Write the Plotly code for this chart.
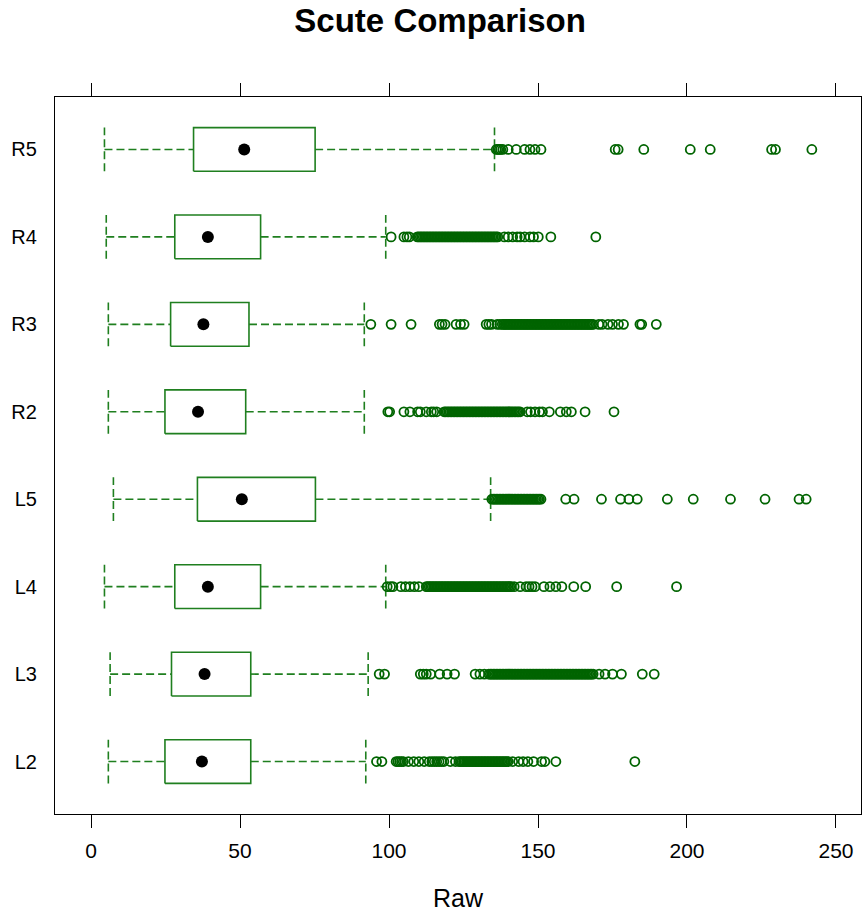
import plotly.graph_objects as go

# Scute measurements per position: five-number summaries plus outlying values
groups = ["L2", "L3", "L4", "L5", "R2", "R3", "R4", "R5"]
whisker_lo = [5.8, 6.4, 4.5, 7.5, 5.8, 5.8, 5.1, 4.5]
q1 = [24.8, 27.0, 28.1, 35.7, 24.8, 26.7, 28.1, 34.4]
median = [37.2, 38.1, 39.2, 50.6, 35.9, 37.7, 39.2, 51.4]
q3 = [53.6, 53.6, 56.9, 75.3, 51.9, 53.0, 56.9, 75.2]
whisker_hi = [92.2, 93.0, 98.9, 134.1, 91.7, 91.7, 98.9, 135.4]

out_L2 = [95.8, 97.6, 102.4, 103.0, 103.6, 104.2, 104.8, 106.5, 108.3, 110.0, 111.8,
          113.5, 114.4, 115.2, 116.0, 116.8, 117.6, 118.4, 120.6, 122.3,
          123.5, 124, 124.5, 125, 125.5, 126, 126.5, 127, 127.5, 128, 128.5, 129,
          129.5, 130, 130.5, 131, 131.5, 132, 132.5, 133, 133.5, 134, 134.5, 135,
          135.5, 136, 136.5, 137, 137.5, 138, 138.5, 139, 139.5, 140,
          141.5, 143.5, 145.0, 146.6, 148.5, 151.2, 152.3, 156.0, 182.5]
out_L3 = [96.7, 98.5, 110.5, 111.5, 112.5, 114.0, 117.0, 119.5, 122.0,
          128.9, 130.5, 132.0, 133.5, 134, 134.5, 135, 135.5, 136, 136.5, 137,
          137.5, 138, 138.5, 139, 139.5, 140, 140.5, 141, 141.5, 142, 142.5, 143,
          143.5, 144, 144.5, 145, 145.5, 146, 146.5, 147, 147.5, 148, 148.5, 149,
          149.5, 150, 150.5, 151, 151.5, 152, 152.5, 153, 153.5, 154, 154.5, 155,
          155.5, 156, 156.5, 157, 157.5, 158, 158.5, 159, 159.5, 160, 160.5, 161,
          161.5, 162, 162.5, 163, 163.5, 164, 164.5, 165, 165.5, 166, 166.5, 167,
          167.5, 168, 168.5, 170.5, 172.5, 175.0, 178.0, 185.0, 189.0]
out_L4 = [99.4, 100.5, 101.3, 104.0, 105.5, 107.0, 108.5, 110.0,
          112.5, 113, 113.5, 114, 114.5, 115, 115.5, 116, 116.5, 117, 117.5, 118,
          118.5, 119, 119.5, 120, 120.5, 121, 121.5, 122, 122.5, 123, 123.5, 124,
          124.5, 125, 125.5, 126, 126.5, 127, 127.5, 128, 128.5, 129, 129.5, 130,
          130.5, 131, 131.5, 132, 132.5, 133, 133.5, 134, 134.5, 135, 135.5, 136,
          136.5, 137, 137.5, 138, 138.5, 139, 139.5, 140, 140.5, 141,
          142.0, 144.0, 146.0, 147.0, 148.0, 149.0, 152.0, 154.0, 156.0, 158.0,
          162.0, 166.0, 176.4, 196.5]
out_L5 = [134.5, 135, 135.5, 136, 136.5, 137, 137.5, 138, 138.5, 139, 139.5, 140,
          140.5, 141, 141.5, 142, 142.5, 143, 143.5, 144, 144.5, 145, 145.5, 146,
          146.5, 147, 147.5, 148, 148.5, 149, 149.5, 150, 150.5, 151,
          159.3, 162.1, 171.3, 177.7, 180.5, 183.3, 193.4, 202.1, 214.6, 226.2,
          237.6, 240.0]
out_R2 = [99.6, 100.2, 105.0, 107.0, 109.6, 110.5, 112.5, 114.2, 115.0, 116.0,
          118.5, 119, 119.5, 120, 120.5, 121, 121.5, 122, 122.5, 123, 123.5, 124,
          124.5, 125, 125.5, 126, 126.5, 127, 127.5, 128, 128.5, 129, 129.5, 130,
          130.5, 131, 131.5, 132, 132.5, 133, 133.5, 134, 134.5, 135, 135.5, 136,
          136.5, 137, 137.5, 138, 138.5, 139, 139.5, 140, 140.5, 141, 141.5, 142,
          142.5, 143, 143.5, 144,
          146.4, 147.5, 149.0, 150.5, 151.5, 153.8, 157.5, 159.5, 161.2, 165.8, 175.5]
out_R3 = [93.9, 100.7, 107.4, 116.9, 117.8, 118.8, 122.5, 124.0, 125.2,
          132.6, 133.5, 134.4, 136.3, 137.2,
          138, 138.5, 139, 139.5, 140, 140.5, 141, 141.5, 142, 142.5, 143, 143.5,
          144, 144.5, 145, 145.5, 146, 146.5, 147, 147.5, 148, 148.5, 149, 149.5,
          150, 150.5, 151, 151.5, 152, 152.5, 153, 153.5, 154, 154.5, 155, 155.5,
          156, 156.5, 157, 157.5, 158, 158.5, 159, 159.5, 160, 160.5, 161, 161.5,
          162, 162.5, 163, 163.5, 164, 164.5, 165, 165.5, 166, 166.5, 167, 167.5,
          168, 168.5,
          170.4, 171.5, 173.5, 175.0, 177.0, 178.7, 184.2, 184.8, 189.7]
out_R4 = [100.7, 105.0, 106.0, 106.8,
          109.5, 110, 110.5, 111, 111.5, 112, 112.5, 113, 113.5, 114, 114.5, 115,
          115.5, 116, 116.5, 117, 117.5, 118, 118.5, 119, 119.5, 120, 120.5, 121,
          121.5, 122, 122.5, 123, 123.5, 124, 124.5, 125, 125.5, 126, 126.5, 127,
          127.5, 128, 128.5, 129, 129.5, 130, 130.5, 131, 131.5, 132, 132.5, 133,
          133.5, 134, 134.5, 135, 135.5, 136, 136.5,
          138.7, 140.0, 141.5, 143.0, 144.0, 145.5, 147.3, 148.5, 150.1, 154.3, 169.4]
out_R5 = [136.0, 136.5, 137.0, 137.5, 138.2, 140.0, 142.7, 145.5, 147.3, 149.0,
          151.0, 175.9, 176.9, 185.5, 201.1, 207.8, 228.4, 229.7, 241.9]

outliers = [out_L2, out_L3, out_L4, out_L5, out_R2, out_R3, out_R4, out_R5]

LINE_GREEN = "#1F7F1F"
POINT_GREEN = "#006400"
HALF = 0.25  # half the box thickness, in category units
DASH = "8px,4px"

fig = go.Figure()

for i, name in enumerate(groups):
    pos = i + 1
    # box from the first to the third quartile
    fig.add_trace(go.Scatter(
        x=[q1[i], q3[i], q3[i], q1[i], q1[i]],
        y=[pos - HALF, pos - HALF, pos + HALF, pos + HALF, pos - HALF],
        mode="lines", line=dict(color=LINE_GREEN, width=1.6),
        hoverinfo="skip", showlegend=False))
    # dashed whiskers
    for a, b in ((whisker_lo[i], q1[i]), (q3[i], whisker_hi[i])):
        fig.add_trace(go.Scatter(
            x=[a, b], y=[pos, pos], mode="lines",
            line=dict(color=LINE_GREEN, width=1.6, dash=DASH),
            hoverinfo="skip", showlegend=False))
    # dashed whisker ends
    for w in (whisker_lo[i], whisker_hi[i]):
        fig.add_trace(go.Scatter(
            x=[w, w], y=[pos - HALF, pos + HALF], mode="lines",
            line=dict(color=LINE_GREEN, width=1.6, dash=DASH),
            hoverinfo="skip", showlegend=False))
    # outlying values
    fig.add_trace(go.Scatter(
        x=outliers[i], y=[pos] * len(outliers[i]), mode="markers",
        marker=dict(symbol="circle-open", size=9, color=POINT_GREEN,
                    line=dict(width=1.8, color=POINT_GREEN)),
        name=name, showlegend=False))

# medians as solid black dots
fig.add_trace(go.Scatter(
    x=median, y=list(range(1, len(groups) + 1)), mode="markers",
    marker=dict(symbol="circle", size=12, color="black"),
    showlegend=False))

fig.update_layout(
    width=863, height=914,
    margin=dict(l=55, r=2, t=97, b=100),
    paper_bgcolor="white", plot_bgcolor="white",
    font=dict(family="Liberation Sans, Arial, sans-serif", color="black"),
    title=dict(text="<b>Scute Comparison</b>", x=0.51, xref="container",
               xanchor="center", y=0.978, yref="container", yanchor="middle",
               font=dict(size=33, color="black")),
    xaxis=dict(range=[-12.1, 258.4], tickvals=[0, 50, 100, 150, 200, 250],
               ticks="outside", ticklen=13, tickwidth=1.2, tickcolor="black",
               showline=True, linecolor="black", linewidth=1.2, mirror="ticks",
               showgrid=False, zeroline=False, ticklabelstandoff=5,
               tickfont=dict(size=21),
               title=dict(text="Raw", font=dict(size=25), standoff=28)),
    yaxis=dict(range=[0.4, 8.6], tickvals=list(range(1, len(groups) + 1)),
               ticktext=groups, ticks="", ticklabelstandoff=13,
               showline=True, linecolor="black", linewidth=1.2, mirror=True,
               showgrid=False, zeroline=False, tickfont=dict(size=20)),
)

fig.write_html("out.html")
